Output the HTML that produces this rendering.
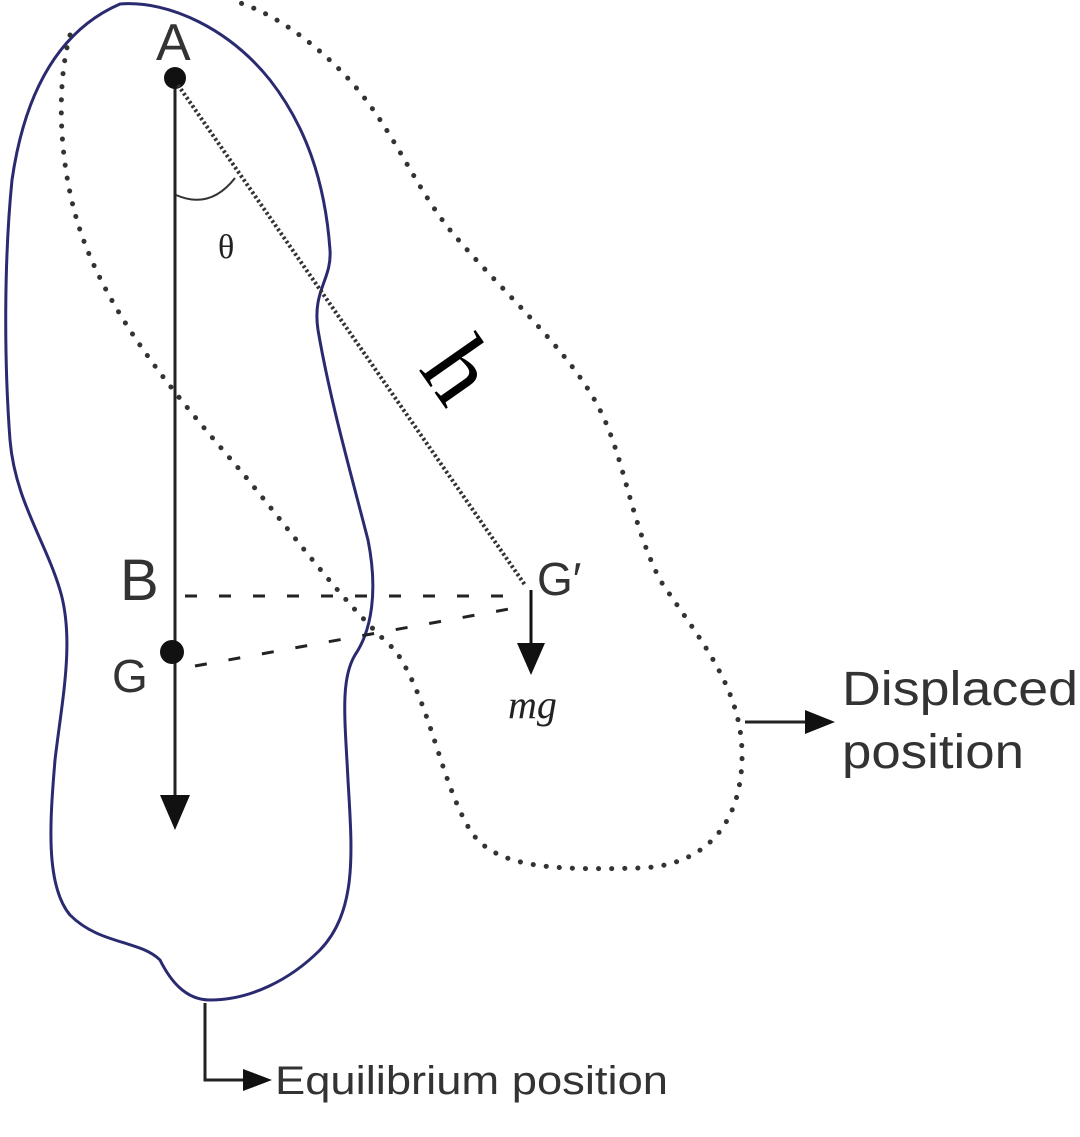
<!DOCTYPE html>
<html><head><meta charset="utf-8"><style>
html,body{margin:0;padding:0;background:#fff;}
svg{display:block}
</style></head><body>
<svg width="1080" height="1137" viewBox="0 0 1080 1137" xmlns="http://www.w3.org/2000/svg">
<path d="M120,4 C170,0 230,30 270,80 C305,125 325,180 330,250 C332,280 312,290 318,330 C330,400 350,470 368,540 C378,590 372,630 355,655 C340,680 345,720 348,780 C352,850 358,910 320,950 C290,980 250,1000 210,1000 C185,1000 170,980 160,960 C140,940 100,945 70,915 C45,885 50,820 55,760 C62,700 75,640 60,590 C45,540 15,500 10,440 C4,360 4,260 12,180 C25,90 60,30 120,4 Z" fill="none" stroke="#2a2a70" stroke-width="3"/>
<path d="M70,35 C55,90 60,170 80,230 C110,320 180,400 240,470 C290,530 340,600 395,650 C430,700 440,780 470,830 C495,870 560,870 640,868 C700,866 740,830 742,760 C744,690 700,640 660,580 C630,520 625,460 600,410 C570,350 500,290 450,230 C410,180 390,120 340,70 C310,40 270,10 230,0" fill="none" stroke="#333" stroke-width="5" stroke-dasharray="0.1 13" stroke-linecap="round"/>
<line x1="175" y1="80" x2="175" y2="800" stroke="#222" stroke-width="3"/>
<polygon points="160,795 190,795 175,830" fill="#111"/>
<circle cx="175" cy="78" r="11" fill="#111"/>
<circle cx="172" cy="652" r="12" fill="#111"/>
<line x1="178" y1="85" x2="525" y2="585" stroke="#333" stroke-width="4" stroke-dasharray="2.5 2.5"/>
<path d="M176,195 Q210,210 235,178" fill="none" stroke="#333" stroke-width="2"/>
<line x1="185" y1="596" x2="520" y2="596" stroke="#222" stroke-width="3" stroke-dasharray="12 22"/>
<line x1="195" y1="666" x2="520" y2="607" stroke="#222" stroke-width="3" stroke-dasharray="12 22"/>
<line x1="531" y1="590" x2="531" y2="650" stroke="#111" stroke-width="3"/>
<polygon points="517,643 545,643 531,675" fill="#111"/>
<line x1="745" y1="722" x2="810" y2="722" stroke="#222" stroke-width="3"/>
<polygon points="805,710 835,722 805,734" fill="#111"/>
<polyline points="205,1003 205,1080 248,1080" fill="none" stroke="#222" stroke-width="3"/>
<polygon points="243,1069 272,1080 243,1091" fill="#111"/>
<g font-family="Liberation Sans, sans-serif" fill="#333">
<text x="156" y="60" font-size="52">A</text>
<text x="120" y="600" font-size="58">B</text>
<text x="112" y="692" font-size="46">G</text>
<text x="537" y="595" font-size="46">G′</text>
<text x="842" y="705" font-size="48" textLength="236" lengthAdjust="spacingAndGlyphs">Displaced</text>
<text x="842" y="768" font-size="48" textLength="182" lengthAdjust="spacingAndGlyphs">position</text>
<text x="275" y="1094" font-size="40" textLength="393" lengthAdjust="spacingAndGlyphs">Equilibrium position</text>
</g>
<text x="218" y="258" font-size="34" font-family="Liberation Serif, serif" fill="#222">θ</text>
<text x="508" y="718" font-size="40" font-style="italic" font-family="Liberation Serif, serif" fill="#222">mg</text>
<text x="0" y="0" font-size="100" font-family="Liberation Serif, serif" fill="#000" transform="translate(418,369) rotate(55)">h</text>
</svg>
</body></html>
